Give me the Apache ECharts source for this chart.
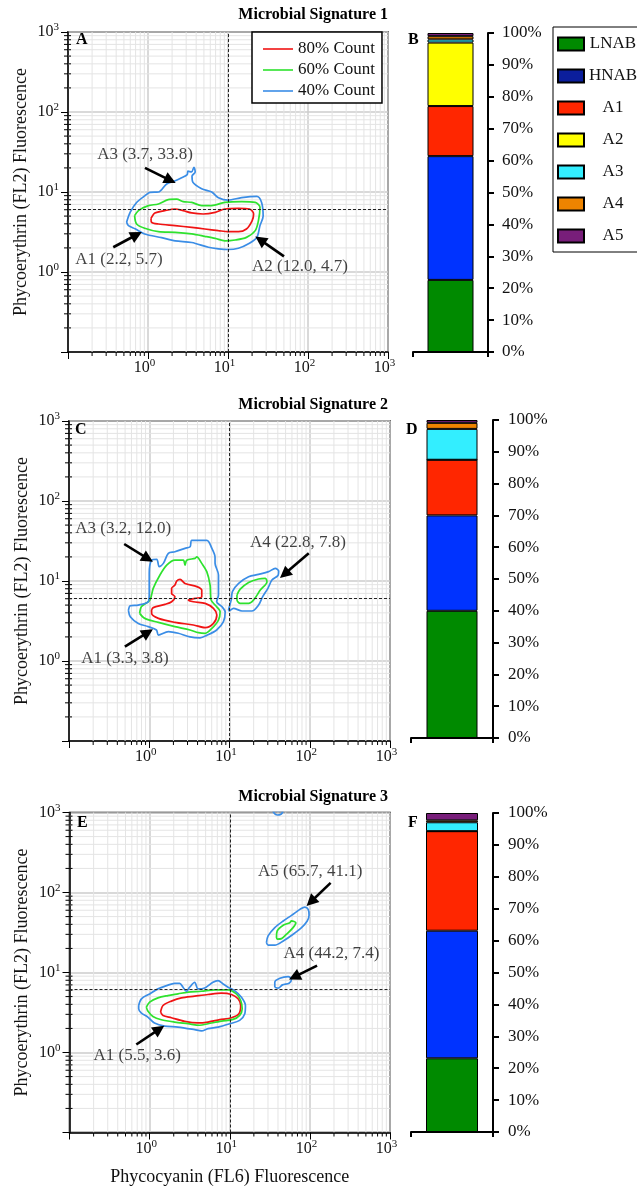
<!DOCTYPE html>
<html>
<head>
<meta charset="utf-8">
<script src="https://cdn.jsdelivr.net/npm/echarts@6/dist/echarts.min.js"></script>
<style>
  html, body { margin: 0; padding: 0; background: #fff; }
  #chart { width: 637px; height: 1188px; }
</style>
</head>
<body>
<div id="chart"></div>
<script>
// ---------- Flow-cytometry density contours, [FL6, FL2] pairs ----------
// Microbial Signature 1
const sig1Level80 = [[1.09,4.68],[1.22,5.47],[1.62,5.85],[2.18,6.13],[2.75,5.85],[3.52,5.47],[4.90,5.31],[6.92,5.57],[9.12,6.13],[13.5,6.25],[18.6,6.13],[20.9,5.31],[20.0,4.37],[17.0,3.45],[13.5,3.19],[10.0,3.19],[7.59,3.29],[5.13,3.45],[3.52,3.61],[2.18,3.80],[1.35,3.98],[1.11,4.17]];
const sig1Level60 = [[0.68,5.06],[0.76,5.85],[1.01,6.76],[1.35,7.08],[1.79,8.02],[2.28,8.13],[2.75,7.59],[3.52,7.41],[4.68,6.76],[6.25,6.76],[9.12,7.41],[14.8,7.59],[21.9,7.41],[25.1,6.46],[24.0,4.37],[21.9,3.29],[17.0,2.71],[12.3,2.51],[9.12,2.45],[6.92,2.63],[5.13,2.79],[3.52,2.99],[2.19,3.13],[1.35,3.19],[0.91,3.52],[0.72,3.98]];
const sig1Level40 = [[0.54,4.2],[0.60,5.6],[0.72,7.4],[0.92,9.0],[1.06,9.9],[1.35,10.0],[1.71,12.6],[2.19,13.8],[2.63,15.1],[3.09,16.5],[3.16,18.2],[3.50,17.8],[3.76,20.4],[3.89,17.8],[3.55,15.8],[3.63,13.3],[4.68,11.0],[6.25,10.0],[7.59,8.5],[10.0,7.9],[14.8,8.5],[22.9,8.8],[26.3,7.4],[27.5,5.0],[25.1,3.8],[22.9,2.7],[17.8,2.24],[13.5,1.98],[10.0,1.91],[7.59,1.95],[5.68,2.04],[3.52,2.34],[2.19,2.45],[1.48,2.69],[0.91,2.99],[0.69,3.47],[0.57,3.8]];

// Microbial Signature 2
const sig2Level80 = [[1.07,4.34],[1.12,4.65],[1.57,5.1],[1.90,5.5],[2.09,6.37],[1.90,7.0],[1.90,8.1],[2.09,8.9],[2.20,10.0],[2.42,10.5],[2.79,9.3],[3.91,8.5],[4.51,7.7],[4.51,6.37],[3.72,6.07],[3.07,5.8],[3.55,5.5],[4.97,5.25],[6.31,4.55],[6.95,3.76],[6.31,2.95],[4.97,2.61],[3.55,2.82],[2.09,3.04],[1.30,3.41],[1.07,3.94]];
const sig2Level60 = [[0.76,3.94],[0.80,4.8],[1.02,5.8],[1.12,8.1],[1.36,11.9],[1.65,15.8],[2.09,18.2],[2.66,18.2],[2.79,15.8],[2.93,18.2],[3.72,19.2],[3.91,20.0],[4.51,16.6],[5.21,13.1],[5.73,8.9],[5.89,5.8],[6.61,5.0],[7.64,4.14],[7.29,3.25],[6.03,2.56],[4.97,2.22],[4.10,2.26],[3.22,2.44],[2.09,2.69],[1.30,3.04],[0.88,3.41]];
const sig2Level40 = [[0.55,4.3],[0.58,4.9],[0.73,5.0],[0.97,5.5],[1.0,7.0],[1.0,12.5],[1.07,18.2],[1.24,18.7],[1.33,15.1],[1.50,16.6],[1.73,22.2],[2.09,23.2],[2.79,25.6],[3.23,26.8],[3.39,32.2],[5.22,32.2],[6.03,25.6],[6.60,20.0],[6.61,16.6],[7.29,11.9],[7.29,6.7],[6.92,5.5],[8.02,4.8],[8.83,4.1],[8.41,3.1],[6.92,2.44],[5.21,2.09],[4.30,1.95],[3.22,2.0],[2.30,2.22],[1.73,2.33],[1.30,2.11],[1.23,2.44],[0.97,2.69],[0.73,2.95],[0.58,3.58]];
const sig2A4Level60 = [[12.4,6.7],[13.6,7.9],[17.3,9.6],[23.0,10.6],[27.9,10.8],[29.3,9.8],[24.2,7.7],[20.0,5.8],[17.3,5.25],[13.6,5.25],[12.4,5.8]];
const sig2A4Level40 = [[9.7,4.34],[10.5,5.8],[10.9,7.4],[13.0,9.35],[17.3,11.3],[23.0,12.1],[30.7,13.1],[37.2,14.4],[41.0,13.3],[40.2,11.7],[33.8,10.3],[30.1,8.1],[25.9,6.37],[23.0,5.0],[19.0,4.22],[14.3,4.22],[11.2,4.55],[9.9,4.22]];

// Microbial Signature 3
const sig3Level80 = [[1.37,3.20],[1.47,3.87],[1.87,4.39],[2.49,4.82],[3.65,5.06],[5.36,5.31],[7.87,5.51],[10.5,5.31],[12.7,4.69],[13.7,3.87],[13.0,3.05],[10.5,2.72],[7.50,2.57],[5.36,2.40],[4.02,2.34],[2.74,2.45],[1.87,2.72],[1.47,2.91]];
const sig3Level60 = [[0.91,3.69],[1.0,4.26],[1.27,4.82],[1.69,5.15],[2.26,5.41],[3.01,5.68],[4.43,5.83],[6.49,6.07],[9.53,6.07],[12.1,5.41],[13.7,4.47],[14.3,3.52],[13.3,2.91],[11.0,2.59],[7.87,2.47],[5.36,2.29],[4.22,2.19],[3.01,2.29],[2.05,2.40],[1.40,2.57],[1.10,2.82],[0.95,3.30]];
const sig3Level40 = [[0.73,3.87],[0.79,4.69],[1.0,5.4],[1.27,6.24],[1.63,6.85],[2.05,7.33],[2.37,7.33],[2.61,6.55],[2.87,5.83],[3.16,6.55],[3.65,7.55],[4.02,6.24],[4.87,6.41],[6.17,7.55],[7.14,7.93],[8.26,7.19],[9.53,6.55],[11.5,5.94],[14.0,4.92],[15.7,3.87],[15.4,3.05],[13.3,2.52],[10.0,2.29],[7.14,2.08],[5.36,1.99],[4.43,1.86],[3.65,1.93],[2.26,2.08],[1.54,2.14],[1.15,2.34],[0.95,2.77],[0.79,3.11],[0.73,3.52]];
const sig3A5Level60 = [[38.3,27.4],[39.1,33.1],[46.5,38.9],[56.2,42.0],[58.9,44.1],[66.8,42.0],[61.7,36.4],[51.1,30.1],[44.3,26.5],[39.1,26.1]];
const sig3A5Level40 = [[28.7,23.7],[30.1,28.7],[36.5,36.4],[46.5,44.1],[59.0,51.8],[75.0,61.5],[86.6,65.8],[95.3,61.5],[97.7,51.8],[92.7,44.1],[78.7,36.4],[61.9,30.1],[46.5,24.8],[36.5,22.0],[30.1,22.0]];
const sig3A4Level40 = [[36.5,6.55],[36.5,7.55],[42.2,8.47],[53.6,8.87],[59.0,8.3],[55.0,7.35],[45.5,7.0],[40.2,6.37]];
const sig3EdgeLevel40 = [[34.5,1050],[36.5,960],[39.5,930],[43.0,945],[45.5,1000],[46.0,1050]];

// Population modes named in each panel: [name, FL6, FL2]
const sig1Regions = [['A3', 3.7, 33.8], ['A1', 2.2, 5.7], ['A2', 12.0, 4.7]];
const sig2Regions = [['A3', 3.2, 12.0], ['A1', 3.3, 3.8], ['A4', 22.8, 7.8]];
const sig3Regions = [['A5', 65.7, 41.1], ['A4', 44.2, 7.4], ['A1', 5.5, 3.6]];

// Gate threshold on FL6 / FL2
const gateFL6 = 10;
const gateFL2 = 6.1;

// Community composition (% of events), stacked bottom to top
const groups = ['LNAB', 'HNAB', 'A1', 'A2', 'A3', 'A4', 'A5'];
const sig1Share = [22.6, 38.8, 15.7, 19.9, 1.0, 1.0, 1.0];
const sig2Share = [40.0, 30.0, 17.5, 0.0, 9.7, 1.9, 0.9];
const sig3Share = [23.1, 40.0, 31.2, 0.0, 2.8, 0.6, 2.3];

const levels = ['80% Count', '60% Count', '40% Count'];
const titles = ['Microbial Signature 1', 'Microbial Signature 2', 'Microbial Signature 3'];
const pctTicks = [0, 10, 20, 30, 40, 50, 60, 70, 80, 90, 100];

// ---------- styling / layout ----------
const FONT = 'Liberation Serif';
const INK = '#111';
const levelColor = { '80% Count': '#f01414', '60% Count': '#2ee22e', '40% Count': '#3a8de6' };
const groupColor = ['#008a00', '#0033ff', '#ff2600', '#ffff00', '#33eeff', '#ee8400', '#781e7a'];

const contourSets = [
  [[sig1Level80, 0], [sig1Level60, 1], [sig1Level40, 2]],
  [[sig2Level80, 0], [sig2Level60, 1], [sig2Level40, 2], [sig2A4Level60, 1], [sig2A4Level40, 2]],
  [[sig3Level80, 0], [sig3Level60, 1], [sig3Level40, 2], [sig3A5Level60, 1], [sig3A5Level40, 2], [sig3A4Level40, 2], [sig3EdgeLevel40, 2]]
];
const regionSets = [sig1Regions, sig2Regions, sig3Regions];
const shareSets = [sig1Share, sig2Share, sig3Share];

// annotation placement in data units: label centre, arrow tail, arrow head
const notePlacement = [
  [[[0.92, 29.0], [0.917, 20.0], [1.90, 14.0]],
   [[0.434, 1.45], [0.368, 2.04], [0.72, 2.92]],
   [[79.4, 1.155], [50.1, 1.57], [25.3, 2.52]]],
  [[[0.473, 44.7], [0.487, 29.0], [0.96, 19.0]],
   [[0.497, 1.06], [0.497, 1.51], [0.96, 2.28]],
   [[71.2, 30.3], [97.2, 22.2], [48.5, 12.2]]],
  [[[101, 184], [181.5, 132], [103, 76.5]],
   [[186, 17.5], [123, 12.2], [64, 8.8]],
   [[0.698, 0.905], [0.682, 1.26], [1.32, 1.96]]]
];

const contourGrids = [
  { left: 68, top: 32, width: 320, height: 320 },
  { left: 69, top: 421, width: 321, height: 320 },
  { left: 69.5, top: 812.5, width: 320.5, height: 320 }
];
const barGrids = [
  { left: 413, top: 33, width: 75, height: 319 },
  { left: 411, top: 420, width: 82, height: 318 },
  { left: 411, top: 813, width: 82, height: 319 }
];
const barWidths = [46, 51, 52];
const barLabelMargins = [14, 15, 15];

// minor decade stops (2..9 x 10^k) for the log grid
const minorStops = [];
for (let d = -1; d < 3; d++) for (let m = 2; m <= 9; m++) minorStops.push(m * Math.pow(10, d));

function powLabel(v) {
  const e = Math.round(Math.log10(v));
  return e < 0 ? '' : '{b|10}{s|' + e + '}';
}
const richX = {
  b: { fontFamily: FONT, fontSize: 16, color: INK, lineHeight: 20 },
  s: { fontFamily: FONT, fontSize: 11, color: INK, verticalAlign: 'top', padding: [0, 7, 0, 0] }
};
const richY = {
  b: { fontFamily: FONT, fontSize: 16, color: INK, lineHeight: 20 },
  s: { fontFamily: FONT, fontSize: 11, color: INK, verticalAlign: 'top' }
};

function renderMinor(params, api) {
  const cs = params.coordSys;
  const v = api.value(0);
  const x = api.coord([v, 1])[0];
  const y = api.coord([1, v])[1];
  const l = cs.x, t = cs.y, r = cs.x + cs.width, b = cs.y + cs.height;
  const g = { stroke: '#e4e4e4', lineWidth: 1 };
  const k = { stroke: '#000', lineWidth: 1 };
  return {
    type: 'group',
    children: [
      { type: 'line', shape: { x1: x, y1: t, x2: x, y2: b }, style: g },
      { type: 'line', shape: { x1: l, y1: y, x2: r, y2: y }, style: g },
      { type: 'line', shape: { x1: x, y1: b, x2: x, y2: b + 4 }, style: k },
      { type: 'line', shape: { x1: l - 4, y1: y, x2: l + 3, y2: y }, style: k }
    ]
  };
}

const grid = [];
const xAxis = [];
const yAxis = [];
const series = [];

contourGrids.forEach((gr, g) => {
  grid.push(Object.assign({ show: true, borderColor: '#000', borderWidth: 1.5, backgroundColor: '#fff', containLabel: false, outerBoundsMode: 'none' }, gr));
  xAxis.push({
    type: 'log', logBase: 10, min: 0.1, max: 1000, gridIndex: g, position: 'bottom',
    axisLine: { show: true, onZero: false, lineStyle: { color: '#000', width: 1.5 } },
    axisTick: { show: true, length: 7, lineStyle: { color: '#000', width: 1 } },
    axisLabel: { formatter: powLabel, rich: richX, margin: 6 },
    splitLine: { show: true, lineStyle: { color: '#cdcdcd', width: 1.5 } },
    name: g === 2 ? 'Phycocyanin (FL6) Fluorescence' : '',
    nameLocation: 'middle', nameGap: 36, nameMoveOverlap: false,
    nameTextStyle: { fontFamily: FONT, fontSize: 18, color: INK }
  });
  yAxis.push({
    type: 'log', logBase: 10, min: 0.1, max: 1000, gridIndex: g, position: 'left',
    axisLine: { show: true, onZero: false, lineStyle: { color: '#000', width: 1.5 } },
    axisTick: { show: true, length: 7, lineStyle: { color: '#000', width: 1 } },
    axisLabel: { formatter: powLabel, rich: richY, margin: 9 },
    splitLine: { show: true, lineStyle: { color: '#cdcdcd', width: 1.5 } },
    name: 'Phycoerythrin (FL2) Fluorescence',
    nameLocation: 'middle', nameRotate: 90, nameGap: 38, nameMoveOverlap: false,
    nameTextStyle: { fontFamily: FONT, fontSize: 18, color: INK }
  });

  // minor grid and ticks
  series.push({
    type: 'custom', xAxisIndex: g, yAxisIndex: g, silent: true, z: 1, clip: false,
    data: minorStops.map(v => [v, v]), renderItem: renderMinor
  });

  // density contours
  contourSets[g].forEach(([ring, li]) => {
    const level = levels[li];
    series.push({
      type: 'line', name: level, xAxisIndex: g, yAxisIndex: g, z: 3, silent: true,
      data: ring.concat([ring[0]]), symbol: 'none', showSymbol: false, smooth: 0.3,
      lineStyle: { color: levelColor[level], width: 1.7 }, itemStyle: { color: levelColor[level] }
    });
  });

  // region labels, arrows and the gate crosshair
  const regions = regionSets[g];
  const place = notePlacement[g];
  const markData = [
    { xAxis: gateFL6, symbol: 'none', lineStyle: { color: '#222', type: [3, 2], width: 1 } },
    { yAxis: gateFL2, symbol: 'none', lineStyle: { color: '#222', type: [3, 2], width: 1 } }
  ];
  place.forEach(p => {
    markData.push([
      { coord: p[1], symbol: 'none', lineStyle: { color: '#000', width: 2.6, type: 'solid' } },
      { coord: p[2], symbol: 'triangle', symbolSize: 12, lineStyle: { color: '#000', width: 2.6, type: 'solid' } }
    ]);
  });
  series.push({
    type: 'scatter', name: 'regions' + g, xAxisIndex: g, yAxisIndex: g, z: 6, silent: true,
    symbolSize: 1, itemStyle: { color: 'rgba(0,0,0,0)' },
    data: regions.map((r, i) => ({
      name: r[0] + ' (' + r[1].toFixed(1) + ', ' + r[2].toFixed(1) + ')',
      value: place[i][0]
    })),
    label: { show: true, position: 'inside', formatter: '{b}', fontFamily: FONT, fontSize: 17, color: INK },
    markLine: {
      silent: true, animation: false, symbol: ['none', 'none'],
      label: { show: false }, emphasis: { disabled: true },
      data: markData
    }
  });
});

barGrids.forEach((gr, k) => {
  const gi = 3 + k;
  grid.push(Object.assign({ containLabel: false, outerBoundsMode: 'none' }, gr));
  xAxis.push({
    type: 'category', gridIndex: gi, data: [''],
    axisLine: { show: true, lineStyle: { color: '#000', width: 2 } },
    axisTick: { show: true, length: 5, lineStyle: { color: '#000', width: 2 } },
    axisLabel: { show: false }, splitLine: { show: false }
  });
  yAxis.push({
    type: 'value', gridIndex: gi, position: 'right', min: pctTicks[0], max: pctTicks[pctTicks.length - 1], interval: 10,
    axisLine: { show: true, lineStyle: { color: '#000', width: 2 } },
    axisTick: { show: true, length: 6, lineStyle: { color: '#000', width: 2 } },
    axisLabel: { formatter: '{value}%', margin: barLabelMargins[k], fontFamily: FONT, fontSize: 17, color: INK },
    splitLine: { show: false }
  });
  groups.forEach((name, j) => {
    series.push({
      type: 'bar', name: name, xAxisIndex: gi, yAxisIndex: gi, stack: 'share' + k, silent: true,
      data: [shareSets[k][j]], barWidth: barWidths[k],
      itemStyle: { color: groupColor[j], borderColor: '#000', borderWidth: 1 }
    });
  });
});

const title = [];
titles.forEach((t, i) => {
  title.push({ text: t, right: 249, top: [7, 397, 789][i], padding: 0,
    textStyle: { fontFamily: FONT, fontSize: 16, fontWeight: 'bold', color: '#000' } });
});
[['A', 76, 32], ['B', 408, 32], ['C', 75, 422], ['D', 406, 422], ['E', 77, 815], ['F', 408, 815]].forEach(p => {
  title.push({ text: p[0], left: p[1], top: p[2], padding: 0,
    textStyle: { fontFamily: FONT, fontSize: 16, fontWeight: 'bold', color: '#000' } });
});

const option = {
  animation: false,
  backgroundColor: '#fff',
  title: title,
  legend: [
    {
      data: levels, left: 252, top: 32, orient: 'vertical', selectedMode: false,
      icon: 'rect', itemWidth: 30, itemHeight: 1.6, itemGap: 3, padding: [8, 7, 3, 11],
      borderColor: '#000', borderWidth: 1.5, backgroundColor: '#fff',
      textStyle: { fontFamily: FONT, fontSize: 17, color: INK, lineHeight: 18 }
    },
    {
      data: groups.map(n => n === 'HNAB' ? { name: n, itemStyle: { color: '#0b1e9c' } } : { name: n }),
      left: 553, top: 27, orient: 'vertical', selectedMode: false, icon: 'rect',
      itemWidth: 26, itemHeight: 13, itemGap: 12, padding: [7, 4, 6, 4],
      borderColor: '#000', borderWidth: 1, backgroundColor: '#fff',
      formatter: n => '{c|' + n + '}',
      textStyle: { fontFamily: FONT, fontSize: 17, color: INK, lineHeight: 20,
        rich: { c: { width: 48, align: 'center', fontFamily: FONT, fontSize: 17, color: INK } } }
    }
  ],
  grid: grid,
  xAxis: xAxis,
  yAxis: yAxis,
  series: series
};

const chart = echarts.init(document.getElementById('chart'), null, { renderer: 'canvas' });
chart.setOption(option);
</script>
</body>
</html>
